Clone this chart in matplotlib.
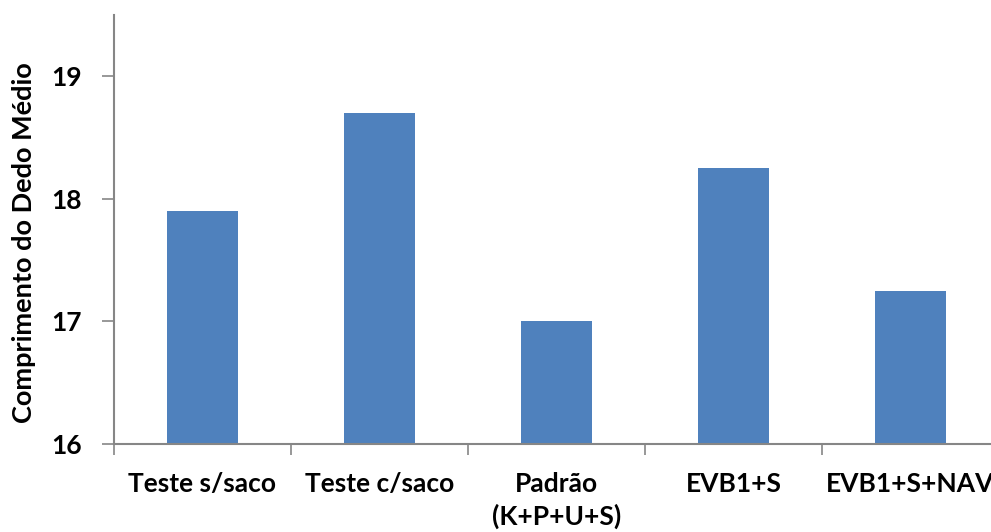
import matplotlib.pyplot as plt
import numpy as np

categorias = ["Teste s/saco", "Teste c/saco", "Padrão\n(K+P+U+S)", "EVB1+S", "EVB1+S+NAV"]
comprimento = [17.9, 18.7, 17.0, 18.25, 17.25]
y_ticks = [16, 17, 18, 19]

plt.rcParams['font.family'] = ['Lato', 'DejaVu Sans']

fig = plt.figure(figsize=(9.91, 5.32), dpi=100)
ax = fig.add_axes([0.115, 0.1654, 0.893, 0.8064])

x = np.arange(len(categorias))
ax.bar(x, [v - 16 for v in comprimento], bottom=16, width=0.4, color="#4F81BD")

ax.set_xlim(-0.5, len(categorias) - 0.5)
ax.set_ylim(16, 19.5)
ax.set_yticks(y_ticks)
ax.set_yticklabels([str(t) for t in y_ticks], fontsize=19, fontweight='bold')

ax.set_xticks(x)
ax.set_xticklabels(categorias, fontsize=19, fontweight='bold', va='top', linespacing=1.35)
ax.tick_params(axis='x', which='major', length=0, pad=20)
ax.set_xticks(np.arange(-0.5, len(categorias), 1.0), minor=True)
ax.tick_params(axis='x', which='minor', length=8, color="#868686", width=1.2)
ax.tick_params(axis='y', length=9, color="#868686", width=1.2, pad=14)

for s in ['top', 'right']:
    ax.spines[s].set_visible(False)
for s in ['left', 'bottom']:
    ax.spines[s].set_color("#868686")
    ax.spines[s].set_linewidth(1.5)

ax.set_ylabel("Comprimento do Dedo Médio", fontsize=19.5, fontweight='bold')
ax.yaxis.set_label_coords(-0.0885, 0.47)

fig.savefig("out.png", dpi=100)
